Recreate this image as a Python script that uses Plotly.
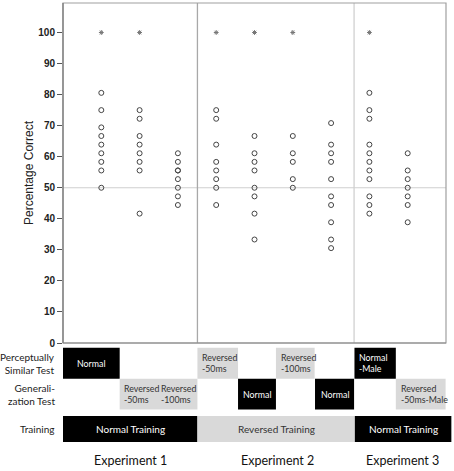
import plotly.graph_objects as go

# ---------------- data ----------------
columns = [1, 2, 3, 4, 5, 6, 7, 8, 9]
col_values = [
    [80.56, 75.0, 69.44, 66.67, 63.89, 61.11, 58.33, 55.56, 50.0],
    [75.0, 72.22, 66.67, 63.89, 61.11, 58.33, 55.56, 41.67],
    [61.11, 58.33, 55.56, 55.56, 52.78, 50.0, 47.22, 44.44],
    [75.0, 72.22, 63.89, 58.33, 55.56, 52.78, 50.0, 44.44],
    [66.67, 61.11, 58.33, 55.56, 50.0, 47.22, 41.67, 33.33],
    [66.67, 61.11, 58.33, 52.78, 50.0],
    [70.83, 63.89, 61.11, 58.33, 52.78, 47.22, 44.44, 38.89, 33.33, 30.56],
    [80.56, 75.0, 72.22, 63.89, 61.11, 58.33, 55.56, 52.78, 47.22, 44.44, 41.67],
    [61.11, 55.56, 52.78, 50.0, 47.22, 44.44, 38.89],
]
extreme_columns = [1, 2, 4, 5, 6, 8]
extreme_values = [100, 100, 100, 100, 100, 100]
y_ticks = [0, 10, 20, 30, 40, 50, 60, 70, 80, 90, 100]
chance_level = 50
y_title = "Percentage Correct"

row_labels = ["Perceptually<br>Similar Test", "Generali-<br>zation Test", "Training"]
experiment_labels = ["Experiment 1", "Experiment 2", "Experiment 3"]

# table cells: (row, x0, x1, label, dark, centered)  -- x in data units of the x axis
table_cells = [
    (0, 0.0, 1.48, "Normal", True, True),
    (0, 3.51, 4.57, "Reversed<br>-50ms", False, False),
    (0, 5.56, 6.57, "Reversed<br>-100ms", False, False),
    (0, 7.61, 8.69, "Normal<br>-Male", True, False),
    (1, 1.48, 3.51, "", False, False),
    (1, 4.57, 5.56, "Normal", True, True),
    (1, 6.58, 7.60, "Normal", True, True),
    (1, 8.69, 9.99, "Reversed<br>-50ms-Male", False, False),
    (2, 0.0, 3.51, "Normal Training", True, True),
    (2, 3.51, 7.62, "Reversed Training", False, True),
    (2, 7.62, 10.14, "Normal Training", True, True),
]
extra_labels = [(1, 1.48, "Reversed<br>-50ms"), (1, 2.46, "Reversed<br>-100ms")]
experiment_centers = [1.75, 5.6, 8.86]
dividers = [3.51, 7.60]

# ---------------- layout constants ----------------
W, H = 454, 471
ML, MR, MT, MB = 63, 8, 3, 127.5
X_RANGE = [0, 10]
plot_h = H - MT - MB
plot_w = W - ML - MR


def px_to_paper_y(py):
    return (H - MB - py) / plot_h


def xd_to_paper(xd):
    return (xd - X_RANGE[0]) / (X_RANGE[1] - X_RANGE[0])


row_bounds = [(348.3, 379.3), (379.3, 410.0), (416.7, 442.7)]
FONT = "Lato"
row_label_font = dict(family=FONT, size=10, color="#222")
cell_font_size = 8.8

fig = go.Figure()

xs, ys = [], []
for c, vals in zip(columns, col_values):
    for v in vals:
        xs.append(c)
        ys.append(v)

fig.add_trace(go.Scatter(
    x=xs, y=ys, mode="markers",
    marker=dict(symbol="circle-open", size=5, color="#444", line=dict(width=1, color="#444")),
    showlegend=False, hoverinfo="y"))

fig.add_trace(go.Scatter(
    x=extreme_columns, y=extreme_values, mode="markers",
    marker=dict(symbol="asterisk-open", size=4, color="#777", line=dict(width=1, color="#777")),
    showlegend=False, hoverinfo="y"))

shapes = []
# chance line
shapes.append(dict(type="line", xref="paper", yref="y", x0=0, x1=1, y0=chance_level, y1=chance_level,
                   line=dict(color="#cfcfcf", width=1.2), layer="below"))
# experiment dividers
for d, col in zip(dividers, ["#a8a8a8", "#d0d0d0"]):
    shapes.append(dict(type="line", xref="x", yref="paper", x0=d, x1=d, y0=0, y1=1,
                       line=dict(color=col, width=1.3), layer="below"))
# frame
shapes.append(dict(type="rect", xref="paper", yref="paper", x0=0, x1=1, y0=0, y1=1,
                   line=dict(color="#a0a0a0", width=1.2)))
shapes.append(dict(type="line", xref="paper", yref="paper", x0=0, x1=0, y0=0, y1=1,
                   line=dict(color="#777", width=1.2)))
shapes.append(dict(type="line", xref="paper", yref="paper", x0=0, x1=1, y0=0, y1=0,
                   line=dict(color="#888", width=1.2)))

annotations = []
for (row, x0, x1, label, dark, centered) in table_cells:
    r0, r1 = row_bounds[row]
    shapes.append(dict(type="rect", xref="paper", yref="paper",
                       x0=xd_to_paper(x0), x1=xd_to_paper(x1),
                       y0=px_to_paper_y(r1), y1=px_to_paper_y(r0),
                       fillcolor="#000000" if dark else "#d9d9d9", line=dict(width=0), layer="above"))
    if label:
        fsize = 10 if row == 2 else cell_font_size
        color = "#ffffff" if dark else "#333333"
        ymid = px_to_paper_y((r0 + r1) / 2)
        if centered:
            annotations.append(dict(xref="paper", yref="paper", x=xd_to_paper((x0 + x1) / 2), y=ymid,
                                    text=label, showarrow=False, font=dict(family=FONT, size=fsize, color=color),
                                    xanchor="center", yanchor="middle"))
        else:
            annotations.append(dict(xref="paper", yref="paper", x=xd_to_paper(x0) + 3 / plot_w, y=ymid,
                                    text=label, showarrow=False, align="left",
                                    font=dict(family=FONT, size=cell_font_size, color=color),
                                    xanchor="left", yanchor="middle"))

for (row, x0, label) in extra_labels:
    r0, r1 = row_bounds[row]
    annotations.append(dict(xref="paper", yref="paper", x=xd_to_paper(x0) + 2 / plot_w,
                            y=px_to_paper_y((r0 + r1) / 2), text=label, showarrow=False, align="left",
                            font=dict(family=FONT, size=cell_font_size, color="#333"),
                            xanchor="left", yanchor="middle"))

for i, lab in enumerate(row_labels):
    r0, r1 = row_bounds[i]
    annotations.append(dict(xref="paper", yref="paper", x=-6 / plot_w, y=px_to_paper_y((r0 + r1) / 2),
                            text=lab, showarrow=False, align="right", font=row_label_font,
                            xanchor="right", yanchor="middle"))

for xc, lab in zip(experiment_centers, experiment_labels):
    annotations.append(dict(xref="paper", yref="paper", x=xd_to_paper(xc), y=px_to_paper_y(460.7),
                            text=lab, showarrow=False, font=dict(family=FONT, size=12.5, color="#111"),
                            xanchor="center", yanchor="middle"))

annotations.append(dict(xref="paper", yref="paper", x=-34 / plot_w, y=0.5, text=y_title, textangle=-90,
                        showarrow=False, font=dict(family="Liberation Sans", size=12, color="#222"),
                        xanchor="center", yanchor="middle"))

fig.update_layout(
    width=W, height=H,
    margin=dict(l=ML, r=MR, t=MT, b=MB, pad=0),
    plot_bgcolor="white", paper_bgcolor="white",
    shapes=shapes, annotations=annotations,
    xaxis=dict(range=X_RANGE, showticklabels=False, ticks="", showgrid=False, zeroline=False,
               showline=False, fixedrange=True),
    yaxis=dict(range=[0, 109.5], tickvals=y_ticks, ticks="outside", ticklen=5, tickcolor="#555",
               tickwidth=1, showgrid=False, zeroline=False, showline=False,
               tickfont=dict(family="Liberation Sans", size=10, color="#222", weight="bold"),
               fixedrange=True),
    showlegend=False,
)

fig.write_html("out.html", config={"displayModeBar": False},
               post_script="document.body.style.margin='0px';document.body.style.padding='0px';")
